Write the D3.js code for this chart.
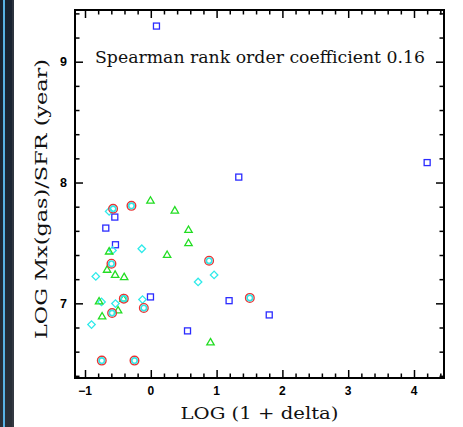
<!DOCTYPE html>
<html>
<head>
<meta charset="utf-8">
<script src="https://cdn.jsdelivr.net/npm/d3@7"></script>
<style>
  html, body { margin: 0; padding: 0; background: #fff; }
  svg { display: block; }
</style>
</head>
<body>
<svg id="chart" width="463" height="427"></svg>
<script>
// ---- data ----
const xTickValues = [-1, 0, 1, 2, 3, 4];
const yTickValues = [7, 8, 9];
const titleText = "Spearman rank order coefficient 0.16";
const xLabel = "LOG (1 + delta)";
const yLabel = "LOG Mx(gas)/SFR (year)";

// blue squares
const squaresX = [0.086, 1.337, 4.20, -0.547, -0.684, -0.537, -0.005, 1.19, 0.558, 1.80];
const squaresY = [9.295, 8.045, 8.165, 7.714, 7.623, 7.485, 7.053, 7.022, 6.772, 6.904];
// green triangles
const trianglesX = [-0.005, 0.365, 0.573, 0.573, 0.248, -0.633, -0.664, -0.542, -0.405, -0.786, -0.415, -0.497, -0.740, 0.907];
const trianglesY = [7.851, 7.769, 7.609, 7.499, 7.402, 7.430, 7.279, 7.237, 7.218, 7.017, 7.039, 6.942, 6.893, 6.678];
// cyan diamonds
const diamondsX = [-0.633, -0.582, -0.137, -0.836, 0.962, 0.719, -0.749, -0.537, -0.126, -0.901];
const diamondsY = [7.761, 7.438, 7.452, 7.223, 7.235, 7.177, 7.012, 6.998, 7.031, 6.824];
// red circles with cyan centre
const circlesX = [-0.573, -0.294, -0.598, 0.886, -0.410, -0.588, -0.106, 1.505, -0.745, -0.248];
const circlesY = [7.783, 7.807, 7.328, 7.353, 7.039, 6.920, 6.962, 7.045, 6.526, 6.526];

// ---- layout ----
const svg = d3.select("#chart");
const L = 75, R = 444, T = 10, B = 378;
const x = d3.scaleLinear().domain([-1.152, 4.456]).range([L, R]);
const y = d3.scaleLinear().domain([6.382, 9.428]).range([B, T]);

// left dark strip (part of the screenshot)
const defs = svg.append("defs");
const g1 = defs.append("linearGradient").attr("id", "strip").attr("x1", 0).attr("y1", 0).attr("x2", 0).attr("y2", 1);
g1.append("stop").attr("offset", "0%").attr("stop-color", "#182230");
g1.append("stop").attr("offset", "60%").attr("stop-color", "#1e2836");
g1.append("stop").attr("offset", "100%").attr("stop-color", "#2a3038");
svg.append("rect").attr("x", 0).attr("y", 0).attr("width", 14).attr("height", 427).attr("fill", "url(#strip)");
svg.append("rect").attr("x", 3).attr("y", 0).attr("width", 2).attr("height", 427).attr("fill", "#58b2e4");
svg.append("rect").attr("x", 12).attr("y", 0).attr("width", 2).attr("height", 427).attr("fill", "#3a4048").attr("opacity", 0.6);

// ---- axes (ticks inward on all four sides) ----
const xMinorOnly = d3.range(-1.0, 4.45, 0.2).map(v => +v.toFixed(2)).filter(v => Math.abs(v - Math.round(v)) > 1e-6);
const yMinor = d3.range(6.4, 9.45, 0.2).map(v => +v.toFixed(2)).filter(v => Math.abs(v - Math.round(v)) > 1e-6);
const MAJ = 8, MIN = 4.5;
const axisStyle = g => {
  g.select(".domain").remove();
  g.selectAll("line").attr("stroke", "#000").attr("stroke-width", 1.5);
  g.selectAll("text").remove();
};

// bottom
svg.append("g").attr("transform", `translate(0,${B})`)
  .call(d3.axisTop(x).tickValues(xTickValues).tickSize(MAJ)).call(axisStyle);
svg.append("g").attr("transform", `translate(0,${B})`)
  .call(d3.axisTop(x).tickValues(xMinorOnly).tickSize(MIN)).call(axisStyle);
// top
svg.append("g").attr("transform", `translate(0,${T})`)
  .call(d3.axisBottom(x).tickValues(xTickValues).tickSize(MAJ)).call(axisStyle);
svg.append("g").attr("transform", `translate(0,${T})`)
  .call(d3.axisBottom(x).tickValues(xMinorOnly).tickSize(MIN)).call(axisStyle);
// left
svg.append("g").attr("transform", `translate(${L},0)`)
  .call(d3.axisRight(y).tickValues(yTickValues).tickSize(MAJ)).call(axisStyle);
svg.append("g").attr("transform", `translate(${L},0)`)
  .call(d3.axisRight(y).tickValues(yMinor).tickSize(MIN)).call(axisStyle);
// right
svg.append("g").attr("transform", `translate(${R},0)`)
  .call(d3.axisLeft(y).tickValues(yTickValues).tickSize(MAJ)).call(axisStyle);
svg.append("g").attr("transform", `translate(${R},0)`)
  .call(d3.axisLeft(y).tickValues(yMinor).tickSize(MIN)).call(axisStyle);

// frame
svg.append("rect").attr("x", L).attr("y", T).attr("width", R - L).attr("height", B - T)
  .attr("fill", "none").attr("stroke", "#000").attr("stroke-width", 2);

// tick labels
const tickFont = "'Liberation Sans', Arial, sans-serif";
svg.append("g").selectAll("text").data(xTickValues).join("text")
  .attr("x", d => x(d)).attr("y", 395)
  .attr("text-anchor", "middle")
  .attr("font-family", tickFont).attr("font-weight", "bold").attr("font-size", 12)
  .text(d => d < 0 ? "\u2212" + Math.abs(d) : String(d));
svg.append("g").selectAll("text").data(yTickValues).join("text")
  .attr("x", 67).attr("y", d => y(d) + 4.5)
  .attr("text-anchor", "end")
  .attr("font-family", tickFont).attr("font-weight", "bold").attr("font-size", 12.5)
  .text(d => String(d));

// axis titles & annotation
const serif = "'DejaVu Serif', serif";
svg.append("text").attr("x", 95).attr("y", 63)
  .attr("font-family", serif).attr("font-size", 16).attr("fill", "#111")
  .attr("textLength", 330).attr("lengthAdjust", "spacingAndGlyphs")
  .text(titleText);
svg.append("text").attr("x", 259.5).attr("y", 419)
  .attr("text-anchor", "middle")
  .attr("font-family", serif).attr("font-size", 17).attr("fill", "#111")
  .attr("textLength", 158).attr("lengthAdjust", "spacingAndGlyphs")
  .text(xLabel);
svg.append("text").attr("transform", "translate(47,199) rotate(-90)")
  .attr("text-anchor", "middle")
  .attr("font-family", serif).attr("font-size", 17).attr("fill", "#111")
  .attr("textLength", 280).attr("lengthAdjust", "spacingAndGlyphs")
  .text(yLabel);

// ---- markers ----
const zip = (xs, ys) => xs.map((v, i) => ({ x: v, y: ys[i] }));
const marks = svg.append("g");

marks.append("g").selectAll("rect").data(zip(squaresX, squaresY)).join("rect")
  .attr("x", d => x(d.x) - 3).attr("y", d => y(d.y) - 3)
  .attr("width", 6).attr("height", 6)
  .attr("fill", "none").attr("stroke", "#2b2bff").attr("stroke-width", 1.3);

const diamond = d3.symbol().type(d3.symbolSquare).size(28);
marks.append("g").selectAll("path").data(zip(diamondsX, diamondsY)).join("path")
  .attr("d", diamond)
  .attr("transform", d => `translate(${x(d.x)},${y(d.y)}) rotate(45)`)
  .attr("fill", "none").attr("stroke", "#30eaea").attr("stroke-width", 1.3);

marks.append("g").selectAll("path").data(zip(trianglesX, trianglesY)).join("path")
  .attr("d", d => {
    const cx = x(d.x), cy = y(d.y);
    return `M${cx},${cy - 3.8}L${cx + 3.7},${cy + 2.6}L${cx - 3.7},${cy + 2.6}Z`;
  })
  .attr("fill", "none").attr("stroke", "#22dd22").attr("stroke-width", 1.3);

const cg = marks.append("g").selectAll("g").data(zip(circlesX, circlesY)).join("g")
  .attr("transform", d => `translate(${x(d.x)},${y(d.y)})`);
cg.append("circle").attr("r", 4.3).attr("fill", "none").attr("stroke", "#ea3434").attr("stroke-width", 1.4);
cg.append("circle").attr("r", 2.7).attr("fill", "none").attr("stroke", "#35e6e6").attr("stroke-width", 1.7);
</script>
</body>
</html>
